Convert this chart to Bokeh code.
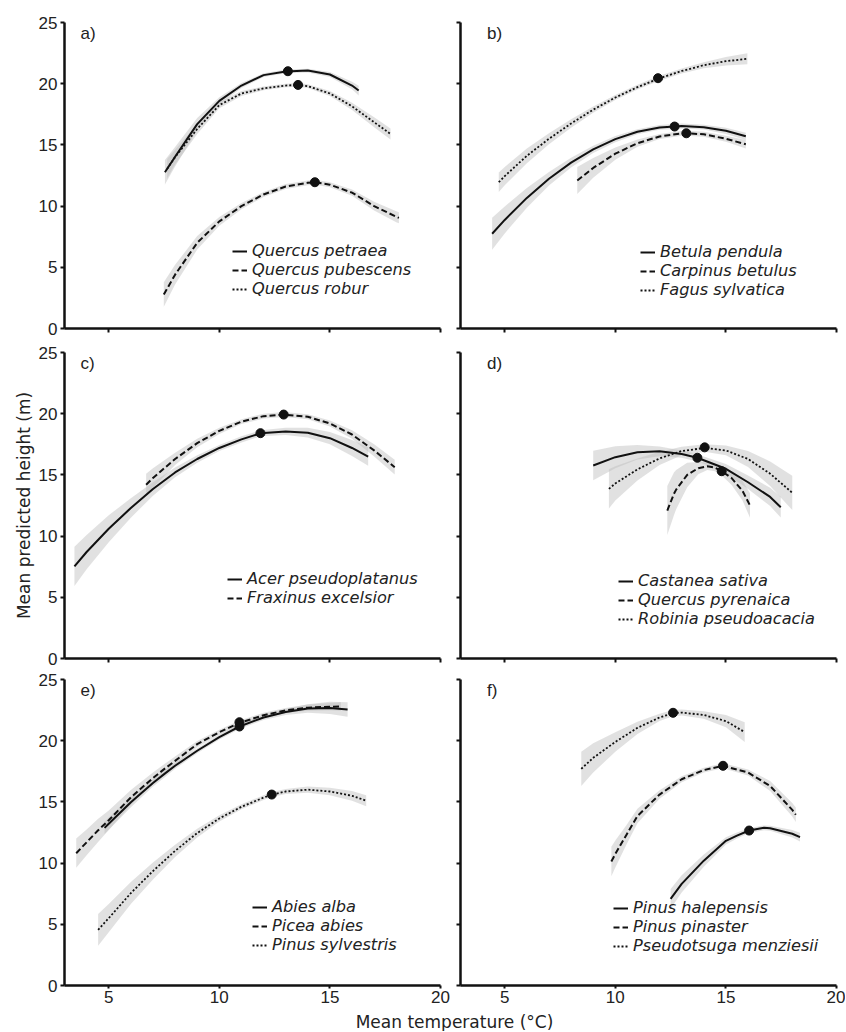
import numpy as np
from bokeh.plotting import figure
from bokeh.models import (Range1d, FixedTicker, Label, Legend, LegendItem,
                          CustomJSTickFormatter)
from bokeh.layouts import row, column
from bokeh.embed import file_html
from bokeh.resources import INLINE

# ---------------- data ----------------
X_TICKS = [5, 10, 15, 20]
Y_TICKS = [0, 5, 10, 15, 20, 25]
X_LABEL = "Mean temperature (°C)"
Y_LABEL = "Mean predicted height (m)"

# a) oaks
qpet_x = [7.54, 8, 9, 10, 11, 12, 13, 14, 15, 16, 16.3]
qpet_y = [12.77, 14.03, 16.7, 18.6, 19.85, 20.7, 21.0, 21.07, 20.75, 19.85, 19.44]
qpet_hw = [1.0, 0.8, 0.5, 0.3, 0.2, 0.15, 0.15, 0.15, 0.2, 0.3, 0.4]
qpub_x = [7.49, 8, 9, 10, 11, 12, 13, 14, 14.32, 15, 16, 17, 18, 18.12]
qpub_y = [2.78, 4.4, 7.0, 8.75, 10.0, 10.95, 11.6, 11.9, 11.95, 11.75, 11.1, 10.0, 9.13, 9.04]
qpub_hw = [1.0, 0.8, 0.55, 0.35, 0.25, 0.2, 0.2, 0.2, 0.2, 0.2, 0.25, 0.35, 0.45, 0.45]
qrob_x = [7.64, 8, 9, 10, 11, 12, 13, 13.56, 14, 15, 16, 17, 17.74]
qrob_y = [13.05, 14.0, 16.3, 18.25, 19.2, 19.62, 19.85, 19.9, 19.8, 19.2, 18.15, 16.85, 15.9]
qrob_hw = [0.8, 0.6, 0.4, 0.25, 0.2, 0.15, 0.15, 0.15, 0.15, 0.2, 0.3, 0.4, 0.45]
a_opt_x = [13.10, 14.32, 13.56]
a_opt_y = [21.02, 11.95, 19.9]

# b) broadleaves
bpen_x = [4.43, 5, 6, 7, 8, 9, 10, 11, 12, 12.68, 13, 14, 15, 15.9]
bpen_y = [7.74, 8.87, 10.67, 12.23, 13.55, 14.63, 15.47, 16.07, 16.43, 16.5, 16.55, 16.45, 16.15, 15.7]
bpen_hw = [1.3, 1.1, 0.8, 0.55, 0.4, 0.3, 0.25, 0.2, 0.2, 0.2, 0.2, 0.2, 0.25, 0.3]
cbet_x = [8.28, 9, 10, 11, 12, 13, 13.21, 14, 15, 15.9]
cbet_y = [12.09, 13.12, 14.28, 15.14, 15.69, 15.94, 15.95, 15.87, 15.5, 15.05]
cbet_hw = [1.1, 0.8, 0.5, 0.3, 0.2, 0.2, 0.2, 0.2, 0.25, 0.35]
fsyl_x = [4.73, 5, 6, 7, 8, 9, 10, 11, 11.93, 13, 14, 15, 15.97]
fsyl_y = [11.95, 12.45, 14.11, 15.5, 16.75, 17.88, 18.87, 19.72, 20.4, 21.04, 21.51, 21.84, 22.03]
fsyl_hw = [0.8, 0.75, 0.6, 0.45, 0.35, 0.25, 0.2, 0.2, 0.2, 0.2, 0.25, 0.35, 0.45]
b_opt_x = [12.68, 13.21, 11.93]
b_opt_y = [16.5, 15.95, 20.45]

# c)
apse_x = [3.45, 4, 5, 6, 7, 8, 9, 10, 11, 11.86, 13, 14, 15, 16, 16.73]
apse_y = [7.52, 8.7, 10.6, 12.3, 13.85, 15.2, 16.3, 17.2, 17.9, 18.4, 18.55, 18.45, 18.0, 17.2, 16.5]
apse_hw = [1.6, 1.4, 1.1, 0.8, 0.55, 0.4, 0.3, 0.25, 0.25, 0.25, 0.3, 0.4, 0.5, 0.65, 0.75]
fexc_x = [6.69, 7, 8, 9, 10, 11, 12, 12.91, 14, 15, 16, 17, 17.93]
fexc_y = [14.2, 14.75, 16.3, 17.6, 18.6, 19.35, 19.8, 19.93, 19.75, 19.2, 18.3, 17.0, 15.63]
fexc_hw = [0.9, 0.8, 0.5, 0.35, 0.25, 0.2, 0.2, 0.2, 0.2, 0.25, 0.35, 0.5, 0.6]
c_opt_x = [11.86, 12.91]
c_opt_y = [18.41, 19.93]

# d)
csat_x = [9.0, 10, 11, 12, 13, 13.71, 14, 15, 16, 17, 17.48]
csat_y = [15.77, 16.45, 16.85, 16.93, 16.7, 16.4, 16.2, 15.5, 14.4, 13.2, 12.36]
csat_hw = [1.2, 0.9, 0.6, 0.4, 0.3, 0.3, 0.3, 0.4, 0.55, 0.75, 0.85]
qpyr_x = [12.35, 12.65, 12.75, 13.25, 13.75, 14.16, 14.5, 14.81, 15.25, 15.75, 16.09]
qpyr_y = [12.09, 13.45, 13.8, 15.0, 15.55, 15.7, 15.6, 15.3, 14.75, 13.7, 12.5]
qpyr_hw = [2.0, 1.75, 1.6, 1.0, 0.5, 0.3, 0.3, 0.35, 0.55, 0.8, 1.0]
rpse_x = [9.71, 10, 11, 12, 13, 14.04, 15, 16, 17, 18]
rpse_y = [13.86, 14.3, 15.45, 16.35, 16.95, 17.2, 17.0, 16.3, 15.1, 13.54]
rpse_hw = [1.6, 1.4, 0.9, 0.55, 0.35, 0.3, 0.4, 0.65, 1.0, 1.4]
d_opt_x = [13.71, 14.81, 14.04]
d_opt_y = [16.4, 15.3, 17.25]

# e) conifers
aalb_x = [4.81, 5, 6, 7, 7.52, 8, 9, 10, 10.91, 12, 13, 14, 15, 15.8]
aalb_y = [12.88, 13.22, 14.97, 16.55, 17.29, 17.95, 19.18, 20.3, 21.16, 21.9, 22.35, 22.63, 22.68, 22.55]
aalb_hw = [0.5, 0.5, 0.4, 0.3, 0.3, 0.25, 0.2, 0.2, 0.2, 0.2, 0.25, 0.35, 0.5, 0.6]
pabi_x = [3.53, 4, 4.51, 5, 6, 7, 7.52, 8, 9, 10, 10.91, 12, 13, 14, 15, 15.5]
pabi_y = [10.81, 11.7, 12.66, 13.5, 15.37, 16.95, 17.7, 18.35, 19.72, 20.7, 21.45, 22.08, 22.48, 22.7, 22.78, 22.79]
pabi_hw = [1.2, 1.05, 0.95, 0.8, 0.6, 0.45, 0.4, 0.35, 0.25, 0.2, 0.2, 0.2, 0.2, 0.25, 0.3, 0.35]
psyl_x = [4.52, 5, 6, 7, 8, 9, 10, 11, 12, 12.39, 13, 14, 15, 16, 16.64]
psyl_y = [4.55, 5.5, 7.55, 9.35, 11.0, 12.45, 13.65, 14.6, 15.35, 15.6, 15.85, 16.0, 15.85, 15.5, 15.1]
psyl_hw = [1.3, 1.15, 0.9, 0.7, 0.5, 0.35, 0.25, 0.2, 0.2, 0.2, 0.2, 0.25, 0.3, 0.4, 0.45]
e_opt_x = [10.91, 10.91, 12.37]
e_opt_y = [21.16, 21.51, 15.6]

# f)
phal_x = [12.5, 13, 14, 15, 15.5, 16.05, 16.72, 17, 18, 18.35]
phal_y = [7.08, 8.3, 10.2, 11.82, 12.25, 12.66, 12.88, 12.85, 12.4, 12.12]
phal_hw = [0.8, 0.7, 0.5, 0.3, 0.25, 0.2, 0.2, 0.2, 0.3, 0.35]
ppin_x = [9.82, 10, 10.5, 11, 12, 13, 14, 14.87, 16, 17, 18, 18.16]
ppin_y = [10.13, 10.75, 12.3, 13.85, 15.6, 16.85, 17.6, 17.95, 17.4, 16.3, 14.35, 13.95]
ppin_hw = [1.2, 1.1, 0.8, 0.6, 0.35, 0.25, 0.2, 0.2, 0.25, 0.4, 0.55, 0.6]
pmen_x = [8.46, 9, 10, 11, 12, 12.61, 13, 14, 15, 15.85]
pmen_y = [17.7, 18.6, 19.9, 21.05, 21.9, 22.25, 22.3, 22.1, 21.6, 20.7]
pmen_hw = [1.4, 1.2, 0.8, 0.5, 0.3, 0.25, 0.25, 0.3, 0.5, 0.8]
f_opt_x = [16.05, 14.87, 12.61]
f_opt_y = [12.66, 17.95, 22.28]

# ---------------- styling ----------------
FONT = "Liberation Sans"
WIDE = "DejaVu Sans"
INK = "#111111"
DASH = {"solid": "solid", "dashed": "6 3", "dotted": "2 2"}
WIDTH = {"solid": 2.0, "dashed": 2.0, "dotted": 1.8}
FW = 376
FH = 306
ROW_STEP = 19


def hide_labels(ax):
    ax.formatter = CustomJSTickFormatter(code="return ''")
    ax.major_label_text_font_size = "1px"
    ax.major_label_standoff = 0


def make_panel(letter, curves, opt_x, opt_y, left, bottom, top_b, bot_b,
               leg_loc, letter_x, ylabel=None):
    bl = 64 if left else 8
    br = 12 if left else 9
    p = figure(width=bl + FW + br, height=top_b + FH + bot_b,
               x_range=Range1d(3, 20), y_range=Range1d(0, 25),
               output_backend="svg", toolbar_location=None,
               min_border_left=bl, min_border_right=br,
               min_border_top=top_b, min_border_bottom=bot_b)
    p.outline_line_color = None
    p.grid.visible = False
    p.background_fill_color = "white"
    p.border_fill_color = "white"
    p.xaxis.ticker = FixedTicker(ticks=X_TICKS)
    p.yaxis.ticker = FixedTicker(ticks=Y_TICKS)
    for ax in (p.xaxis[0], p.yaxis[0]):
        ax.axis_line_width = 2.5
        ax.axis_line_color = INK
        ax.major_tick_line_width = 2
        ax.major_tick_line_color = INK
        ax.major_tick_in = 0
        ax.major_tick_out = 4
        ax.minor_tick_line_color = None
        ax.major_label_text_font = FONT
        ax.major_label_text_font_size = "17px"
        ax.major_label_text_color = "#222222"
        ax.major_label_standoff = 3
    if bottom:
        p.xaxis[0].major_tick_out = 3
        p.xaxis[0].major_label_standoff = 2
    else:
        hide_labels(p.xaxis[0])
    if not left:
        hide_labels(p.yaxis[0])
    if ylabel:
        ya = p.yaxis[0]
        ya.axis_label = ylabel
        ya.axis_label_text_font = WIDE
        ya.axis_label_text_font_size = "17px"
        ya.axis_label_text_font_style = "normal"
        ya.axis_label_text_color = "#222222"
        ya.axis_label_standoff = 2

    for (xs, ys, hw, style, name) in curves:
        xs = np.array(xs); ys = np.array(ys); hw = np.array(hw)
        p.varea(x=xs, y1=ys - hw, y2=ys + hw, fill_color="#bdbdbd",
                fill_alpha=0.45)
    renderers = []
    for (xs, ys, hw, style, name) in curves:
        r = p.line(xs, ys, line_color=INK, line_width=WIDTH[style],
                   line_dash=DASH[style])
        renderers.append((name, r))
    p.scatter(opt_x, opt_y, size=9, color=INK)

    # one single-entry legend per row, so the row pitch matches the reference
    n = len(renderers)
    lx, ly = leg_loc
    for i, (name, r) in enumerate(renderers):
        oy = int(round(ly + (n - 1 - i) * ROW_STEP))
        leg = Legend(items=[LegendItem(label=name, renderers=[r])],
                     location=(lx, oy), padding=0, margin=0, spacing=0,
                     border_line_color=None, background_fill_alpha=0,
                     glyph_width=15, glyph_height=18, label_height=18,
                     label_standoff=5, label_text_font=WIDE,
                     label_text_font_style="italic",
                     label_text_font_size="16.2px",
                     label_text_color="#222222")
        p.add_layout(leg)
    p.add_layout(Label(x=letter_x, y=24.1, text=letter, text_font=FONT,
                       text_font_size="17px", text_color="#222222",
                       text_baseline="alphabetic"))
    return p


pa = make_panel("a)", [(qpet_x, qpet_y, qpet_hw, "solid", "Quercus petraea"),
                       (qpub_x, qpub_y, qpub_hw, "dashed", "Quercus pubescens"),
                       (qrob_x, qrob_y, qrob_hw, "dotted", "Quercus robur")],
                a_opt_x, a_opt_y, True, False, 22, 11, (168, 30), 3.72)
pb = make_panel("b)", [(bpen_x, bpen_y, bpen_hw, "solid", "Betula pendula"),
                       (cbet_x, cbet_y, cbet_hw, "dashed", "Carpinus betulus"),
                       (fsyl_x, fsyl_y, fsyl_hw, "dotted", "Fagus sylvatica")],
                b_opt_x, b_opt_y, False, False, 22, 11, (180, 29), 4.2)
pc = make_panel("c)", [(apse_x, apse_y, apse_hw, "solid", "Acer pseudoplatanus"),
                       (fexc_x, fexc_y, fexc_hw, "dashed", "Fraxinus excelsior")],
                c_opt_x, c_opt_y, True, False, 13, 11, (163, 51), 3.72,
                ylabel=Y_LABEL)
pd = make_panel("d)", [(csat_x, csat_y, csat_hw, "solid", "Castanea sativa"),
                       (qpyr_x, qpyr_y, qpyr_hw, "dashed", "Quercus pyrenaica"),
                       (rpse_x, rpse_y, rpse_hw, "dotted", "Robinia pseudoacacia")],
                d_opt_x, d_opt_y, False, False, 13, 11, (158, 30), 4.2)
pe = make_panel("e)", [(aalb_x, aalb_y, aalb_hw, "solid", "Abies alba"),
                       (pabi_x, pabi_y, pabi_hw, "dashed", "Picea abies"),
                       (psyl_x, psyl_y, psyl_hw, "dotted", "Pinus sylvestris")],
                e_opt_x, e_opt_y, True, True, 10, 26, (188, 31), 3.72)
pf = make_panel("f)", [(phal_x, phal_y, phal_hw, "solid", "Pinus halepensis"),
                       (ppin_x, ppin_y, ppin_hw, "dashed", "Pinus pinaster"),
                       (pmen_x, pmen_y, pmen_hw, "dotted", "Pseudotsuga menziesii")],
                f_opt_x, f_opt_y, False, True, 10, 26, (153, 30), 4.2)

total_w = pa.width + pb.width
lab = figure(width=total_w, height=20, x_range=Range1d(0, total_w),
             y_range=Range1d(0, 20), output_backend="svg",
             toolbar_location=None, min_border=0, x_axis_location=None,
             y_axis_location=None)
lab.outline_line_color = None
lab.grid.visible = False
lab.add_layout(Label(x=454, y=10, text=X_LABEL, text_font=WIDE,
                     text_font_size="17px", text_color="#222222",
                     text_align="center", text_baseline="middle"))

layout = column(row(pa, pb), row(pc, pd), row(pe, pf), lab)
open("out.html", "w").write(file_html(layout, INLINE))
